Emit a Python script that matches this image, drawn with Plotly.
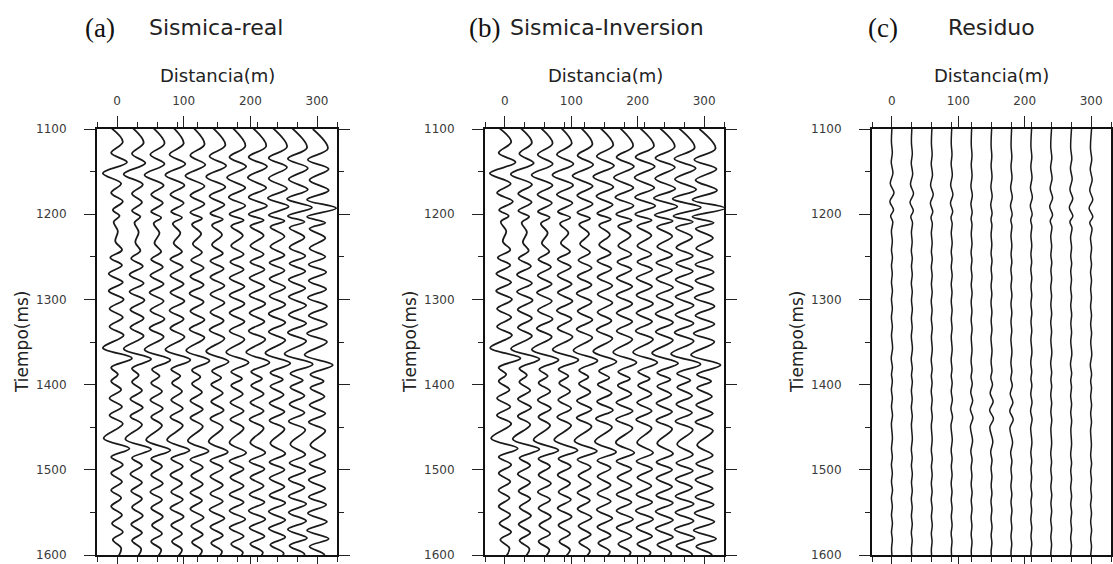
import plotly.graph_objects as go

W, H = 1113, 564

# ---------------- data ----------------
trace_offsets_m = [0, 30, 60, 90, 120, 150, 180, 210, 240, 270, 300]
trace_delay_ms = [0, 1, 2, 2, 3, 4, 5, 5, 6, 7, 8]
display_gain = 1.25  # wiggle display gain

extrema_ms = [1092, 1115, 1128, 1139, 1152, 1164, 1175, 1185, 1195, 1202,
              1209, 1220, 1232, 1242, 1251, 1260, 1270, 1280, 1290, 1300,
              1311, 1321, 1332, 1342, 1357, 1369, 1380, 1388, 1396, 1406,
              1416, 1426, 1436, 1446, 1463, 1475, 1485, 1494, 1504, 1514,
              1524, 1533, 1543, 1553, 1563, 1573, 1582, 1592, 1604]

real_amp = [
    [-16, 7, -7, 12, -17, 5, -7, 7, -5, 3, -4, 1, -2, 6, -8, 6, -10, 7, -10, 8, -9, 7, -9, 8, -17,
     18, -7, 1, -7, 5, -9, 6, -9, 7, -16, 15, -7, 7, -7, 6, -7, 5, -7, 6, -6, 7, -5, 5, 0],
    [-12, 8, -6, 10, -16, 7, -6, 6, -6, 4, -3, 2, -2, 4, -7, 7, -9, 8, -9, 9, -8, 8, -8, 8, -16,
     17, -6, 2, -6, 6, -8, 7, -8, 6, -14, 17, -6, 6, -8, 6, -7, 6, -6, 7, -7, 6, -6, 5, -2],
    [-10, 9, -8, 9, -15, 8, -7, 7, -7, 5, -4, 3, -3, 5, -7, 7, -8, 8, -9, 8, -8, 9, -9, 8, -15,
     16, -6, 3, -7, 6, -8, 7, -7, 6, -13, 16, -7, 6, -7, 7, -8, 6, -7, 7, -6, 6, -7, 5, -3],
    [-9, 8, -9, 10, -14, 9, -8, 8, -7, 6, -5, 4, -4, 6, -8, 7, -8, 8, -8, 9, -9, 8, -8, 9, -14,
     16, -7, 4, -6, 6, -7, 7, -8, 7, -12, 15, -7, 7, -8, 6, -7, 7, -8, 8, -7, 6, -6, 6, -4],
    [-8, 9, -8, 10, -14, 9, -8, 9, -8, 6, -6, 5, -5, 6, -7, 8, -8, 8, -9, 8, -8, 9, -9, 9, -13,
     15, -6, 4, -6, 6, -8, 7, -8, 7, -11, 14, -8, 7, -7, 7, -8, 6, -8, 8, -7, 7, -6, 6, -4],
    [-8, 10, -9, 11, -13, 10, -9, 9, -8, 7, -6, 6, -6, 7, -8, 8, -8, 9, -8, 9, -8, 8, -9, 9, -13,
     14, -6, 5, -7, 7, -7, 8, -8, 7, -10, 13, -8, 7, -8, 7, -8, 7, -9, 9, -8, 7, -7, 6, -5],
    [-7, 10, -9, 11, -12, 10, -10, 10, -9, 8, -7, 7, -7, 8, -8, 8, -9, 9, -9, 9, -9, 9, -9, 9, -13,
     14, -7, 6, -7, 7, -8, 8, -8, 8, -9, 11, -9, 8, -8, 8, -9, 8, -9, 10, -9, 8, -7, 7, -5],
    [-7, 11, -10, 12, -11, 11, -10, 12, -10, 8, -8, 8, -8, 8, -8, 9, -9, 9, -9, 10, -9, 9, -10, 10, -13,
     15, -7, 6, -7, 8, -8, 8, -9, 8, -8, 10, -9, 9, -8, 8, -9, 9, -10, 10, -9, 9, -8, 7, -5],
    [-6, 12, -10, 12, -10, 12, -11, 14, -10, 9, -8, 9, -8, 9, -9, 9, -9, 10, -9, 10, -10, 10, -10, 10, -14,
     16, -8, 7, -8, 8, -9, 9, -9, 9, -8, 10, -9, 9, -9, 9, -9, 10, -10, 10, -10, 10, -8, 8, -6],
    [-6, 12, -11, 13, -10, 13, -12, 18, -11, 9, -9, 9, -9, 10, -9, 10, -10, 10, -10, 11, -10, 11, -11, 11, -15,
     19, -8, 7, -8, 9, -9, 9, -10, 10, -8, 10, -9, 10, -10, 9, -10, 11, -10, 11, -11, 12, -9, 9, -6],
    [-5, 13, -11, 14, -9, 14, -12, 23, -12, 10, -9, 10, -9, 10, -10, 11, -10, 11, -11, 12, -10, 12, -12, 12, -15,
     19, -8, 8, -8, 9, -9, 10, -10, 10, -8, 10, -9, 10, -10, 10, -10, 11, -11, 12, -12, 14, -9, 9, -6],
]

residual_amp = [
    [0.5, -0.6, 0.5, -0.8, 1.2, -2.0, 2.5, -2.5, 2.0, -1.5, 1.0, -0.6, 0.5, -0.5, 0.6, -0.5, 0.4, -0.5, 0.6, -0.5,
     0.5, -0.6, 0.5, -0.5, 0.8, -0.8, 0.6, -0.5, 0.5, -0.6, 0.5, -0.5, 0.7, -0.6, 0.6, -0.5, 0.5, -0.6, 0.5, -0.5,
     0.7, -0.6, 0.5, -0.5, 0.6, -0.5, 0.5, -0.4, 0.3],
    [0.4, -0.5, 0.6, -0.7, 1.0, -1.6, 2.0, -2.2, 1.8, -1.2, 0.8, -0.5, 0.4, -0.6, 0.5, -0.4, 0.5, -0.6, 0.5, -0.4,
     0.6, -0.5, 0.4, -0.6, 0.7, -0.7, 0.5, -0.4, 0.6, -0.5, 0.4, -0.6, 0.5, -0.5, 0.6, -0.6, 0.4, -0.5, 0.6, -0.4,
     0.5, -0.6, 0.4, -0.5, 0.5, -0.6, 0.4, -0.5, 0.3],
    [0.5, -0.4, 0.5, -0.6, 0.9, -1.4, 1.8, -1.6, 1.2, -0.9, 0.7, -0.5, 0.5, -0.4, 0.6, -0.5, 0.5, -0.4, 0.5, -0.6,
     0.4, -0.5, 0.6, -0.4, 0.6, -0.6, 0.5, -0.5, 0.4, -0.6, 0.5, -0.4, 0.6, -0.5, 0.5, -0.5, 0.6, -0.4, 0.5, -0.5,
     0.4, -0.6, 0.5, -0.4, 0.6, -0.5, 0.4, -0.5, 0.3],
    [0.4, -0.5, 0.4, -0.6, 0.8, -1.2, 1.5, -1.4, 1.2, -0.8, 0.6, -0.5, 0.6, -0.5, 0.4, -0.5, 0.6, -0.5, 0.4, -0.5,
     0.5, -0.4, 0.5, -0.5, 0.6, -0.6, 0.4, -0.5, 0.6, -0.5, 0.8, -0.9, 1.0, -0.8, 0.7, -0.6, 0.5, -0.4, 0.5, -0.6,
     0.4, -0.5, 0.5, -0.4, 0.5, -0.6, 0.4, -0.4, 0.3],
    [0.3, -0.4, 0.5, -0.4, 0.6, -0.8, 0.9, -0.8, 0.7, -0.6, 0.5, -0.4, 0.5, -0.6, 0.4, -0.5, 0.5, -0.4, 0.6, -0.5,
     0.4, -0.5, 0.6, -0.4, 0.5, -0.6, 0.5, -0.6, 0.8, -1.0, 1.3, -1.5, 1.6, -1.4, 1.2, -0.9, 0.6, -0.5, 0.4, -0.5,
     0.6, -0.4, 0.5, -0.5, 0.4, -0.5, 0.5, -0.4, 0.3],
    [0.4, -0.5, 0.4, -0.5, 0.6, -0.7, 0.8, -0.9, 0.7, -0.6, 0.5, -0.5, 0.4, -0.5, 0.6, -0.4, 0.5, -0.5, 0.4, -0.6,
     0.5, -0.4, 0.5, -0.6, 0.6, -0.5, 0.6, -0.8, 1.2, -1.6, 2.0, -2.2, 2.4, -2.0, 1.6, -1.0, 0.6, -0.5, 0.5, -0.4,
     0.5, -0.6, 0.4, -0.5, 0.6, -0.4, 0.5, -0.5, 0.3],
    [0.4, -0.4, 0.5, -0.5, 0.7, -0.9, 1.0, -1.1, 0.9, -0.7, 0.6, -0.5, 0.5, -0.4, 0.5, -0.6, 0.4, -0.5, 0.6, -0.5,
     0.5, -0.5, 0.4, -0.6, 0.6, -0.6, 0.5, -0.7, 1.0, -1.4, 1.8, -2.0, 2.2, -1.8, 1.4, -0.9, 0.6, -0.5, 0.4, -0.6,
     0.5, -0.5, 0.6, -0.4, 0.5, -0.5, 0.4, -0.5, 0.3],
    [0.5, -0.5, 0.6, -0.6, 0.8, -1.0, 1.2, -1.2, 1.0, -0.8, 0.6, -0.5, 0.5, -0.5, 0.4, -0.6, 0.5, -0.4, 0.5, -0.5,
     0.6, -0.4, 0.5, -0.5, 0.7, -0.7, 0.5, -0.5, 0.6, -0.7, 0.8, -0.9, 0.9, -0.8, 0.7, -0.6, 0.5, -0.5, 0.4, -0.5,
     0.6, -0.5, 0.4, -0.6, 0.5, -0.4, 0.5, -0.5, 0.3],
    [0.5, -0.6, 0.7, -0.8, 1.0, -1.3, 1.6, -1.8, 1.6, -1.2, 0.8, -0.6, 0.5, -0.5, 0.6, -0.4, 0.5, -0.6, 0.4, -0.5,
     0.5, -0.6, 0.4, -0.5, 0.7, -0.7, 0.5, -0.4, 0.5, -0.6, 0.5, -0.5, 0.6, -0.5, 0.5, -0.6, 0.4, -0.5, 0.5, -0.5,
     0.6, -0.4, 0.5, -0.6, 0.5, -0.5, 0.4, -0.5, 0.3],
    [0.5, -0.6, 0.8, -0.9, 1.2, -1.5, 1.9, -2.2, 2.0, -1.5, 1.0, -0.7, 0.5, -0.5, 0.6, -0.5, 0.4, -0.6, 0.5, -0.5,
     0.6, -0.4, 0.5, -0.5, 0.8, -0.8, 0.6, -0.5, 0.4, -0.6, 0.5, -0.5, 0.6, -0.4, 0.5, -0.6, 0.5, -0.5, 0.4, -0.6,
     0.5, -0.5, 0.6, -0.4, 0.5, -0.6, 0.4, -0.5, 0.3],
    [0.6, -0.7, 0.8, -1.0, 1.3, -1.6, 2.0, -2.4, 2.1, -1.6, 1.1, -0.7, 0.6, -0.5, 0.5, -0.6, 0.5, -0.5, 0.4, -0.6,
     0.5, -0.5, 0.6, -0.4, 0.8, -0.9, 0.6, -0.5, 0.5, -0.5, 0.6, -0.5, 0.5, -0.6, 0.4, -0.5, 0.6, -0.5, 0.5, -0.4,
     0.5, -0.6, 0.5, -0.5, 0.6, -0.5, 0.5, -0.4, 0.3],
]

for lst in real_amp + residual_amp:
    assert len(lst) == len(extrema_ms), len(lst)

x_major_ticks = [0, 100, 200, 300]
x_minor_ticks = [-30, 0, 30, 60, 90, 120, 150, 180, 210, 240, 270, 300, 330]
y_major_ticks = [1100, 1200, 1300, 1400, 1500, 1600]
y_minor_ticks = [1150, 1250, 1350, 1450, 1550]

panel_letters = ["(a)", "(b)", "(c)"]
panel_titles = ["Sismica-real", "Sismica-Inversion", "Residuo"]
x_title = "Distancia(m)"
y_title = "Tiempo(ms)"

# inversion = real - residual
inversion_amp = [[r - e for r, e in zip(ra, ea)] for ra, ea in zip(real_amp, residual_amp)]
panels_data = [real_amp, inversion_amp, residual_amp]
panel_line_width = [1.8, 1.8, 1.5]

# ---------------- layout geometry (pixels) ----------------
x_domains_px = [(97, 337), (485, 724), (872, 1111)]
y_top_px, y_bot_px = 129, 555
letter_x_px = [100, 484, 883]
title_x_px = [216, 607, 991]
xtitle_x_px = [217, 605, 991]
ytitle_x_px = [22, 410, 797]

FONT = "DejaVu Sans"
INK = "#111111"

fig = go.Figure()

for p, amps in enumerate(panels_data):
    xa = "x" if p == 0 else f"x{p+1}"
    ya = "y" if p == 0 else f"y{p+1}"
    for k, off in enumerate(trace_offsets_m):
        t = [tm + trace_delay_ms[k] for tm in extrema_ms]
        x = [off + display_gain * a for a in amps[k]]
        fig.add_trace(go.Scatter(
            x=x, y=t, mode="lines", xaxis=xa, yaxis=ya,
            line=dict(color="#1a1a1a", width=panel_line_width[p], shape="spline", smoothing=1.0),
            hoverinfo="skip", showlegend=False,
        ))

layout = dict(
    width=W, height=H, autosize=False,
    margin=dict(l=0, r=0, t=0, b=0, pad=0, autoexpand=False),
    paper_bgcolor="white", plot_bgcolor="white",
    showlegend=False,
)

axis_common = dict(
    showline=True, linewidth=2, linecolor=INK, mirror="allticks",
    ticks="outside", tickwidth=1.3, tickcolor="#222222",
    showgrid=False, zeroline=False, automargin=False,
    tickfont=dict(family=FONT, size=12, color="#3a3a3a"),
)

for p in range(3):
    xs = "xaxis" if p == 0 else f"xaxis{p+1}"
    ys = "yaxis" if p == 0 else f"yaxis{p+1}"
    yref = "y" if p == 0 else f"y{p+1}"
    xref = "x" if p == 0 else f"x{p+1}"
    x0, x1 = x_domains_px[p]
    layout[xs] = dict(
        axis_common,
        domain=[x0 / W, x1 / W], anchor=yref, side="top",
        range=[-30, 330], tickmode="array", tickvals=x_major_ticks,
        ticklen=11, ticklabelstandoff=6,
        minor=dict(tickmode="array", tickvals=x_minor_ticks, ticks="outside",
                   ticklen=5, tickwidth=1.2, tickcolor="#222222", showgrid=False),
    )
    layout[ys] = dict(
        axis_common,
        domain=[1 - y_bot_px / H, 1 - y_top_px / H], anchor=xref,
        range=[1600, 1100], tickmode="array", tickvals=y_major_ticks,
        ticklen=11, ticklabelstandoff=15,
        minor=dict(tickmode="array", tickvals=y_minor_ticks, ticks="outside",
                   ticklen=5, tickwidth=1.2, tickcolor="#222222", showgrid=False),
    )

annotations = []
for p in range(3):
    annotations.append(dict(
        text=panel_letters[p], xref="paper", yref="paper",
        x=letter_x_px[p] / W, y=1 - 28 / H, xanchor="center", yanchor="middle",
        showarrow=False, font=dict(family="Liberation Serif", size=27, color="#111111"),
    ))
    annotations.append(dict(
        text=panel_titles[p], xref="paper", yref="paper",
        x=title_x_px[p] / W, y=1 - 28 / H, xanchor="center", yanchor="middle",
        showarrow=False, font=dict(family=FONT, size=22, color="#222222"),
    ))
    annotations.append(dict(
        text=x_title, xref="paper", yref="paper",
        x=xtitle_x_px[p] / W, y=1 - 75 / H, xanchor="center", yanchor="middle",
        showarrow=False, font=dict(family=FONT, size=18, color="#222222"),
    ))
    annotations.append(dict(
        text=y_title, xref="paper", yref="paper", textangle=-90,
        x=ytitle_x_px[p] / W, y=1 - 342 / H, xanchor="center", yanchor="middle",
        showarrow=False, font=dict(family=FONT, size=17, color="#222222"),
    ))
layout["annotations"] = annotations

fig.update_layout(**layout)
fig.write_html(
    "out.html",
    config={"displayModeBar": False},
    post_script="document.body.style.margin='0';document.body.style.overflow='hidden';"
                "document.documentElement.style.overflow='hidden';",
)
